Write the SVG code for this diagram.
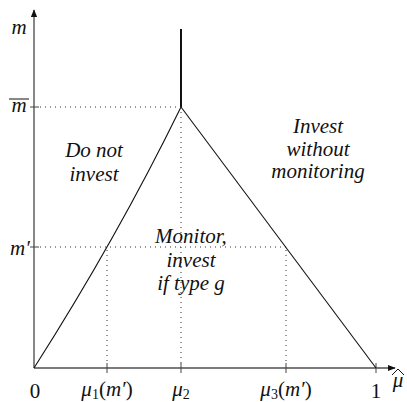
<svg xmlns="http://www.w3.org/2000/svg" width="407" height="402" viewBox="0 0 407 402">
<defs>
<style>
.ax{stroke:#7a7a7a;stroke-width:1.8;fill:none}
.tk{stroke:#444;stroke-width:1;fill:none}
.dot{stroke:#333;stroke-width:1;stroke-dasharray:1 4;fill:none}
.cv{stroke:#111;stroke-width:1.1;fill:none}
.t{font-family:'Liberation Serif','Times New Roman',serif;font-style:italic;font-size:21px;fill:#111;text-anchor:middle}
.up{font-style:normal}
.sub{font-size:14px;font-style:normal}
</style>
<marker id="ah" viewBox="0 0 10 10" refX="9" refY="5" markerWidth="8" markerHeight="8" orient="auto" markerUnits="userSpaceOnUse">
<path d="M0,1 L10,5 L0,9 z" fill="#111"/>
</marker>
</defs>
<g id="connectors">
<line class="ax" x1="34" y1="368" x2="34" y2="10" marker-end="url(#ah)"/>
<line class="ax" x1="34" y1="368" x2="395" y2="368" marker-end="url(#ah)"/>
<line class="tk" x1="30" y1="107" x2="39" y2="107"/>
<line class="tk" x1="30" y1="247" x2="39" y2="247"/>
<line class="tk" x1="107" y1="363" x2="107" y2="373"/>
<line class="tk" x1="181" y1="363" x2="181" y2="373"/>
<line class="tk" x1="286" y1="363" x2="286" y2="373"/>
<line class="tk" x1="376" y1="363" x2="376" y2="373"/>
<line class="dot" x1="40" y1="107" x2="178" y2="107"/>
<line class="dot" x1="40" y1="247" x2="286" y2="247"/>
<line class="dot" x1="107" y1="250" x2="107" y2="365"/>
<line class="dot" x1="181" y1="112" x2="181" y2="365"/>
<line class="dot" x1="286" y1="250" x2="286" y2="365"/>
<line x1="181" y1="29" x2="181" y2="107" stroke="#111" stroke-width="2"/>
<path class="cv" d="M34,368 Q117.25,237.5 181,107"/>
<line class="cv" x1="181" y1="107" x2="376" y2="368"/>
</g>
<g id="axis-labels">
<text class="t" x="19" y="34">m</text>
<text class="t" x="19" y="112">m</text>
<line x1="9" y1="99" x2="29" y2="99" stroke="#111" stroke-width="1"/>
<text class="t" x="20" y="255">m′</text>
<text class="t up" x="35" y="398">0</text>
<text class="t" x="107" y="396">μ<tspan class="sub" dy="3">1</tspan><tspan class="up" dy="-3">(</tspan>m′<tspan class="up">)</tspan></text>
<text class="t" x="181" y="396">μ<tspan class="sub" dy="3">2</tspan></text>
<text class="t" x="286" y="396">μ<tspan class="sub" dy="3">3</tspan><tspan class="up" dy="-3">(</tspan>m′<tspan class="up">)</tspan></text>
<text class="t up" x="376" y="398">1</text>
<text class="t" x="398" y="387">μ</text>
<path d="M392,375 L398,369 L404,375" stroke="#111" stroke-width="1" fill="none"/>
</g>
<g id="region-donot">
<text class="t" x="94" y="157">Do not</text>
<text class="t" x="94" y="181">invest</text>
</g>
<g id="region-invest">
<text class="t" x="318" y="133">Invest</text>
<text class="t" x="318" y="156">without</text>
<text class="t" x="318" y="178">monitoring</text>
</g>
<g id="region-monitor">
<text class="t" x="191" y="243">Monitor,</text>
<text class="t" x="191" y="267">invest</text>
<text class="t" x="191" y="290">if type g</text>
</g>
</svg>
